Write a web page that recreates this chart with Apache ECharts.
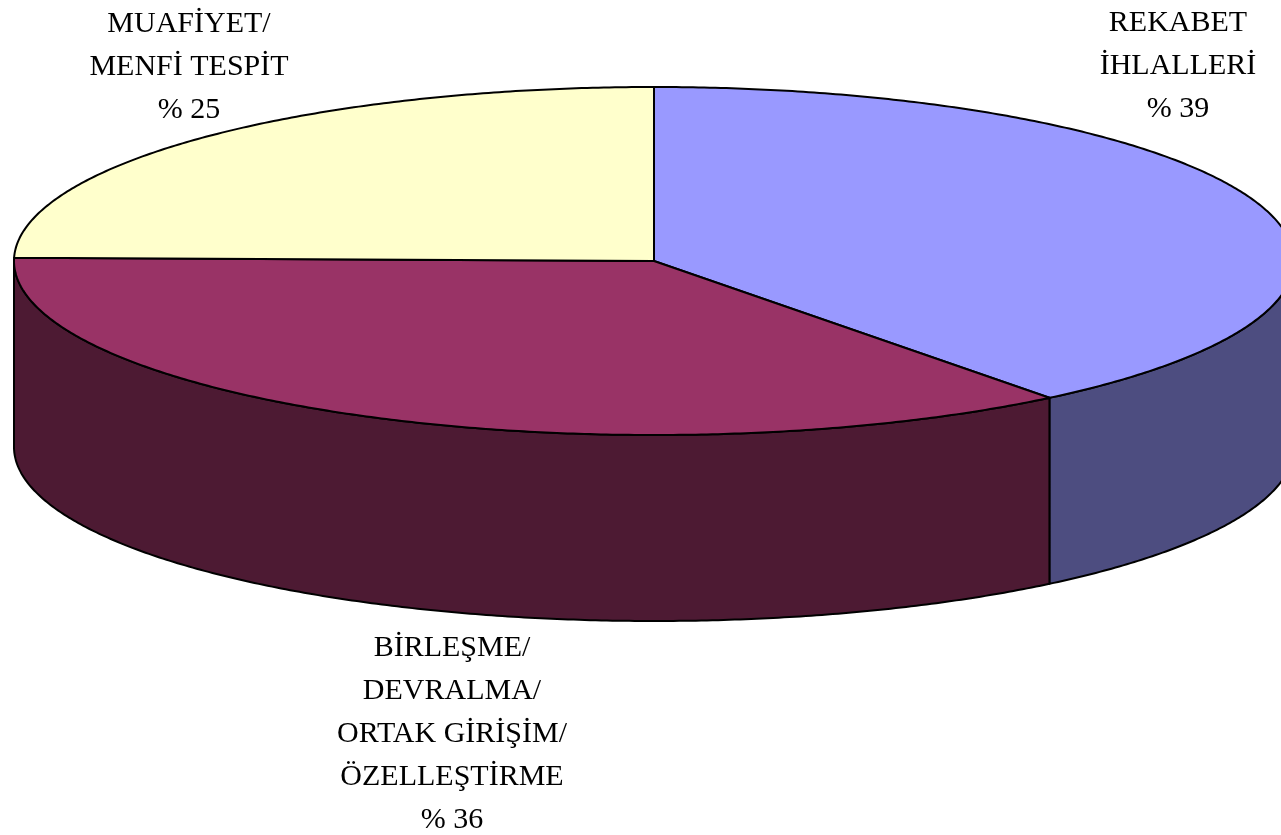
<!DOCTYPE html>
<html>
<head>
<meta charset="utf-8">
<style>html,body{margin:0;padding:0;background:#fff;overflow:hidden}#c{width:1281px;height:835px}</style>
<script src="https://cdn.jsdelivr.net/npm/echarts@6/dist/echarts.min.js"></script>
</head>
<body>
<div id="c"></div>
<script>
const categories = ['REKABET\nİHLALLERİ', 'BİRLEŞME/\nDEVRALMA/\nORTAK GİRİŞİM/\nÖZELLEŞTİRME', 'MUAFİYET/\nMENFİ TESPİT'];
const percentLabels = ['% 39', '% 36', '% 25'];
const values = [39.4, 35.9, 24.7];
const topColors = ['#9999FF', '#993366', '#FFFFCC'];
const sideColors = ['#4D4D80', '#4D1A33', '#808066'];
const labelAnchors = [[1178, 2], [452, 627], [189, 3]];

const CX = 654, CY = 261, RX = 640, RY = 174, DEPTH = 186, LINE = '#000', LW = 2;
const total = values.reduce((a, b) => a + b, 0);
const startAngle = i => values.slice(0, i).reduce((a, b) => a + b, 0) / total * 360;
const pt = (deg, dy) => {
  const r = deg * Math.PI / 180;
  return [CX + RX * Math.sin(r), CY - RY * Math.cos(r) + (dy || 0)];
};
const arc = (a, b, dy) => {
  const out = [];
  const n = Math.max(2, Math.ceil(Math.abs(b - a) / 0.5));
  for (let k = 0; k <= n; k++) out.push(pt(a + (b - a) * k / n, dy));
  return out;
};

function renderItem(params, api) {
  const i = params.dataIndex;
  const a = startAngle(i);
  const b = a + api.value(0) / total * 360;
  const children = [];
  const sa = Math.max(a, 90), sb = Math.min(b, 270);
  if (sb > sa) {
    children.push({
      type: 'polygon',
      shape: { points: arc(sa, sb, 0).concat(arc(sb, sa, DEPTH)) },
      style: { fill: sideColors[i], stroke: LINE, lineWidth: LW, lineJoin: 'round' }
    });
  }
  children.push({
    type: 'polygon',
    shape: { points: [[CX, CY]].concat(arc(a, b, 0)) },
    style: { fill: topColors[i], stroke: LINE, lineWidth: LW, lineJoin: 'round' }
  });
  children.push({
    type: 'text',
    x: labelAnchors[i][0],
    y: labelAnchors[i][1],
    style: {
      text: categories[i] + '\n' + percentLabels[i],
      fill: '#000',
      font: '30px "Liberation Serif", serif',
      lineHeight: 43,
      align: 'center',
      verticalAlign: 'top'
    }
  });
  return { type: 'group', children };
}

const chart = echarts.init(document.getElementById('c'), null, { renderer: 'canvas' });
chart.setOption({
  animation: false,
  backgroundColor: '#fff',
  series: [{
    type: 'custom',
    coordinateSystem: 'none',
    silent: true,
    clip: false,
    renderItem,
    data: values.map((v, i) => ({ name: categories[i], value: [v] }))
  }]
});
</script>
</body>
</html>
